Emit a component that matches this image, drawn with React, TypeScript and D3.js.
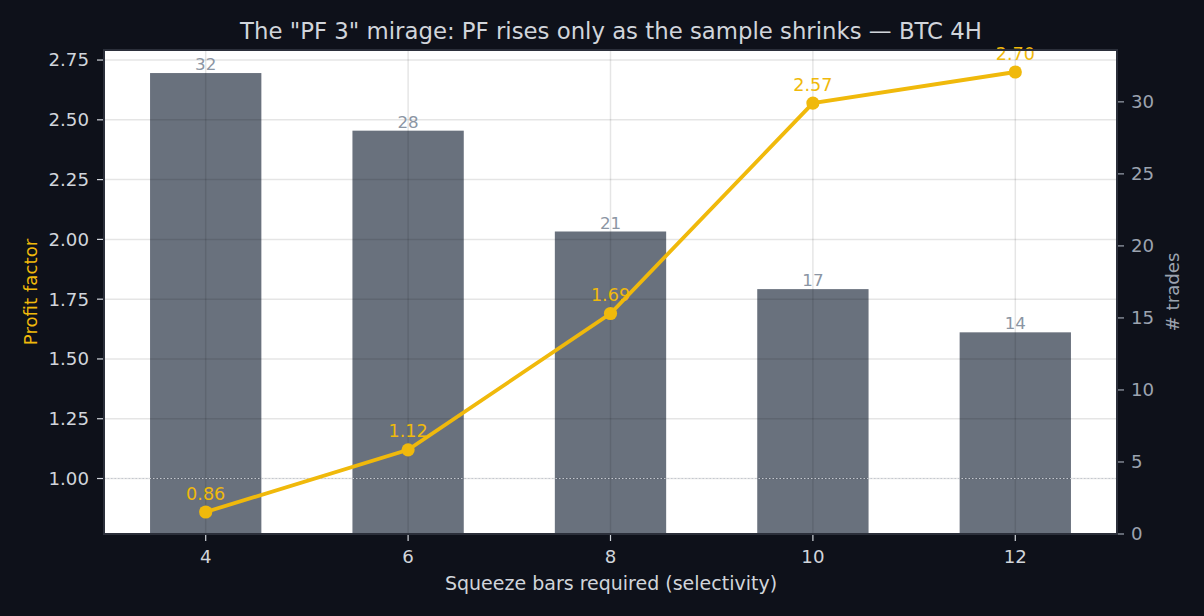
import * as d3 from 'd3';
import React from 'react';

const squeezeBars = [4, 6, 8, 10, 12];
const profitFactor = [0.86, 1.12, 1.69, 2.57, 2.7];
const tradeCounts = [32, 28, 21, 17, 14];
const pfTicks = [1.0, 1.25, 1.5, 1.75, 2.0, 2.25, 2.5, 2.75];
const tradeTicks = [0, 5, 10, 15, 20, 25, 30];

const W = 1204;
const H = 616;
const margin = { top: 50, right: 87, bottom: 82, left: 104 };
const FONT = 'DejaVu Sans, sans-serif';
const YELLOW = '#f0b90b';

export default function App() {
    const innerW = W - margin.left - margin.right;
    const innerH = H - margin.top - margin.bottom;

    const x = d3.scaleLinear().domain([2.995, 13.005]).range([0, innerW]);
    const yPf = d3.scaleLinear().domain([0.768, 2.792]).range([innerH, 0]);
    const yTr = d3.scaleLinear().domain([0, 33.6]).range([innerH, 0]);
    const barW = x(1.1) - x(0);

    const line = d3
        .line<number>()
        .x((_, i) => x(squeezeBars[i]))
        .y((d) => yPf(d));

    return (
        <svg
            width={W}
            height={H}
            style={{ position: 'absolute', left: 0, top: 0, background: '#0e111a' }}
            fontFamily={FONT}
        >
            <rect width={W} height={H} fill="#0e111a" />
            <text x={611} y={39} textAnchor="middle" fontSize={22.8} fill="#d1d5db">
                The "PF 3" mirage: PF rises only as the sample shrinks — BTC 4H
            </text>

            <g transform={`translate(${margin.left},${margin.top})`}>
                <rect width={innerW} height={innerH} fill="#ffffff" />

                {/* bars */}
                {tradeCounts.map((c, i) => (
                    <rect
                        key={'b' + i}
                        x={x(squeezeBars[i]) - barW / 2}
                        y={yTr(c)}
                        width={barW}
                        height={innerH - yTr(c)}
                        fill="#374151"
                        fillOpacity={0.75}
                    />
                ))}

                {/* grid, drawn over the bars */}
                {pfTicks.map((t) => (
                    <line key={'hg' + t} x1={0} x2={innerW} y1={yPf(t)} y2={yPf(t)} stroke="#000" strokeOpacity={0.1} strokeWidth={1.5} />
                ))}
                {squeezeBars.map((s) => (
                    <line key={'vg' + s} x1={x(s)} x2={x(s)} y1={0} y2={innerH} stroke="#000" strokeOpacity={0.1} strokeWidth={1.5} />
                ))}

                {tradeCounts.map((c, i) => (
                    <text
                        key={'bl' + i}
                        x={x(squeezeBars[i])}
                        y={yTr(c) - 3}
                        textAnchor="middle"
                        fontSize={16.7}
                        fill="#8b95a3"
                    >
                        {c}
                    </text>
                ))}

                {/* PF = 1 reference */}
                <line
                    x1={0}
                    x2={innerW}
                    y1={yPf(1)}
                    y2={yPf(1)}
                    stroke="#c4c8cf"
                    strokeWidth={1.2}
                    strokeDasharray="1.5 2"
                />

                {/* PF line */}
                <path d={line(profitFactor) ?? ''} fill="none" stroke={YELLOW} strokeWidth={3.8} />
                {profitFactor.map((v, i) => (
                    <circle key={'p' + i} cx={x(squeezeBars[i])} cy={yPf(v)} r={6.6} fill={YELLOW} />
                ))}
                {profitFactor.map((v, i) => (
                    <text
                        key={'pl' + i}
                        x={x(squeezeBars[i])}
                        y={yPf(v) - 12.5}
                        textAnchor="middle"
                        fontSize={17.6}
                        fill={YELLOW}
                    >
                        {v.toFixed(2)}
                    </text>
                ))}

                {/* frame */}
                <rect width={innerW} height={innerH} fill="none" stroke="#2b2f3a" strokeWidth={2} />

                {/* left axis */}
                {pfTicks.map((t) => (
                    <g key={'lt' + t} transform={`translate(0,${yPf(t)})`}>
                        <line x1={-7} x2={-1} stroke="#d1d5db" strokeWidth={1.2} />
                        <text x={-15} dy="0.35em" textAnchor="end" fontSize={18.2} fill="#d1d5db">
                            {t.toFixed(2)}
                        </text>
                    </g>
                ))}

                {/* right axis */}
                {tradeTicks.map((t) => (
                    <g key={'rt' + t} transform={`translate(${innerW},${yTr(t)})`}>
                        <line x1={1} x2={7} stroke="#9ca3af" strokeWidth={1.2} />
                        <text x={14} dy="0.35em" textAnchor="start" fontSize={18.2} fill="#9ca3af">
                            {t}
                        </text>
                    </g>
                ))}

                {/* bottom axis */}
                {squeezeBars.map((s) => (
                    <g key={'bt' + s} transform={`translate(${x(s)},${innerH})`}>
                        <line y1={1} y2={7} stroke="#d1d5db" strokeWidth={1.2} />
                        <text y={29} textAnchor="middle" fontSize={18.2} fill="#d1d5db">
                            {s}
                        </text>
                    </g>
                ))}
            </g>

            <text x={611} y={590} textAnchor="middle" fontSize={19} fill="#d1d5db">
                Squeeze bars required (selectivity)
            </text>
            <text
                transform={`translate(37,${margin.top + innerH / 2}) rotate(-90)`}
                textAnchor="middle"
                fontSize={18.2}
                fill={YELLOW}
            >
                Profit factor
            </text>
            <text
                transform={`translate(1179,${margin.top + innerH / 2}) rotate(-90)`}
                textAnchor="middle"
                fontSize={18.2}
                fill="#9ca3af"
            >
                # trades
            </text>
        </svg>
    );
}
